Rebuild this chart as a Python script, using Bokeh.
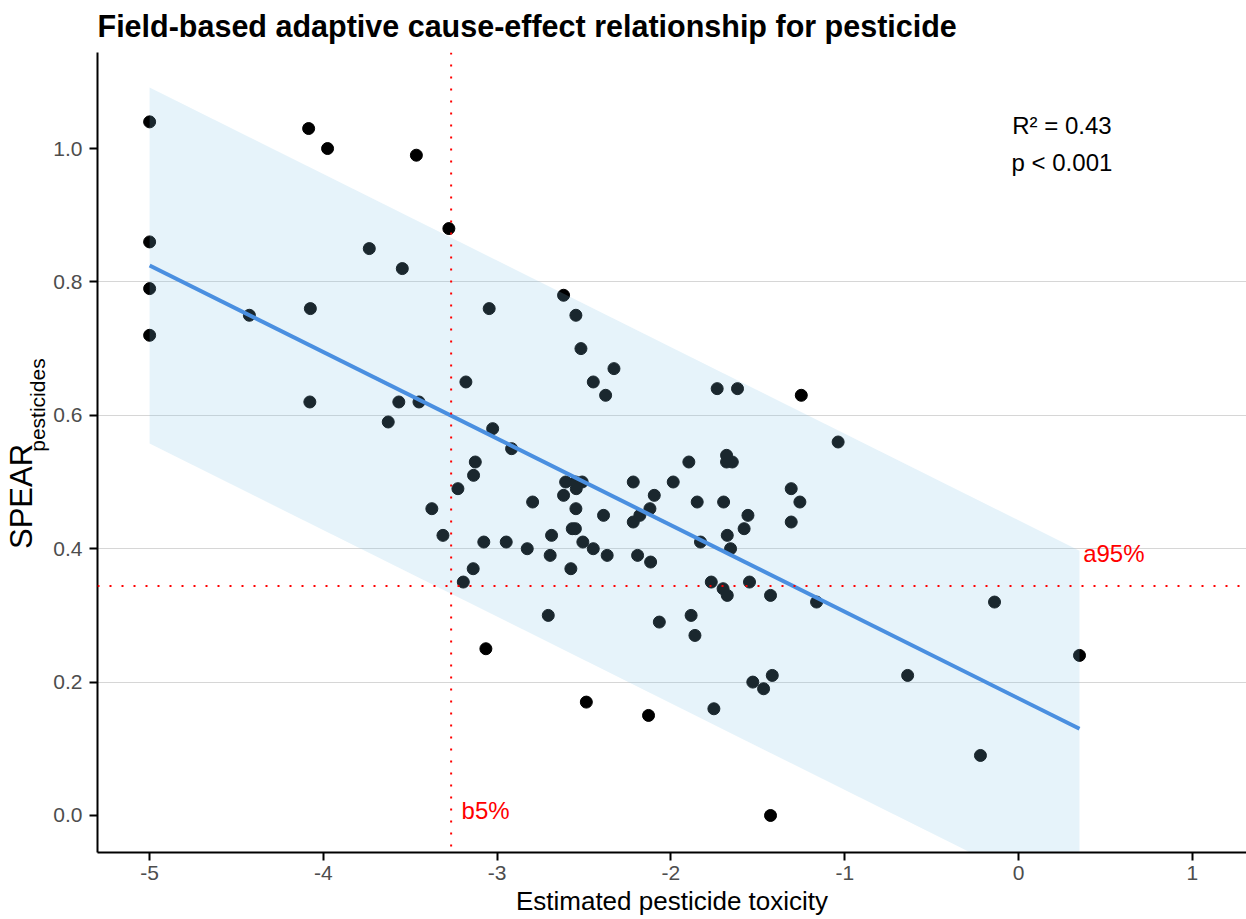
import numpy as np
from bokeh.plotting import figure
from bokeh.layouts import row
from bokeh.models import Span, Label, FixedTicker, PrintfTickFormatter, Range1d
from bokeh.core.properties import value
from bokeh.embed import file_html
from bokeh.resources import INLINE

# ---- data ----
toxicity = [
    -5.00, -4.085, -3.976, -3.465, -3.278, -5.00, -3.736, -3.546, -5.00, -4.426,
    -4.075, -3.046, -5.00, -3.18, -4.078, -3.566, -3.627, -3.45, -2.618, -2.547,
    -2.518, -2.328, -2.447, -2.376, -1.734, -1.617, -1.25, -3.026, -2.917, -3.126,
    -3.136, -3.226, -3.376, -3.312, -3.077, -2.948, -2.827, -2.695, -2.687, -2.796,
    -2.618, -2.606, -2.549, -2.511, -2.545, -2.547, -2.568, -2.55, -2.507, -2.447,
    -2.367, -2.388, -2.217, -2.096, -2.121, -2.179, -2.217, -2.192, -2.117, -1.987,
    -1.897, -1.849, -1.83, -1.697, -1.68, -1.68, -1.647, -1.676, -1.657, -1.557,
    -1.579, -1.308, -1.258, -1.308, -3.138, -2.576, -3.195, -1.768, -1.70, -1.676,
    -1.548, -1.427, -1.162, -2.706, -1.884, -2.067, -1.862, -3.065, -1.417, -1.529,
    -1.467, -1.753, -2.487, -2.129, -1.427, -1.038, -0.138, 0.351, -0.638, -0.219,
]
spear = [
    1.04, 1.03, 1.00, 0.99, 0.88, 0.86, 0.85, 0.82, 0.79, 0.75,
    0.76, 0.76, 0.72, 0.65, 0.62, 0.62, 0.59, 0.62, 0.78, 0.75,
    0.70, 0.67, 0.65, 0.63, 0.64, 0.64, 0.63, 0.58, 0.55, 0.53,
    0.51, 0.49, 0.46, 0.42, 0.41, 0.41, 0.40, 0.39, 0.42, 0.47,
    0.48, 0.50, 0.50, 0.50, 0.49, 0.46, 0.43, 0.43, 0.41, 0.40,
    0.39, 0.45, 0.50, 0.48, 0.46, 0.45, 0.44, 0.39, 0.38, 0.50,
    0.53, 0.47, 0.41, 0.47, 0.54, 0.53, 0.53, 0.42, 0.40, 0.45,
    0.43, 0.49, 0.47, 0.44, 0.37, 0.37, 0.35, 0.35, 0.34, 0.33,
    0.35, 0.33, 0.32, 0.30, 0.30, 0.29, 0.27, 0.25, 0.21, 0.20,
    0.19, 0.16, 0.17, 0.15, 0.00, 0.56, 0.32, 0.24, 0.21, 0.09,
]

fit_intercept = 0.1756
fit_slope = -0.1298
band_halfwidth = 0.267
b5_threshold = -3.265
a95_threshold = 0.344
r2_text = "R\u00b2 = 0.43"
p_text = "p < 0.001"
x_ticks = [-5, -4, -3, -2, -1, 0, 1]
y_ticks = [0.0, 0.2, 0.4, 0.6, 0.8, 1.0]
grid_ticks = [0.2, 0.4, 0.6, 0.8]
y_title = "SPEAR"
y_title_sub = "pesticides"

FONT = "Liberation Sans"
W, H = 1246, 919
LEFT_W = 50

# ---- narrow strip holding the y-axis title (with subscript) ----
yl = figure(width=LEFT_W, height=H, x_range=Range1d(0, LEFT_W), y_range=Range1d(0, H),
            toolbar_location=None, output_backend="svg",
            x_axis_location=None, y_axis_location=None, min_border=0)
yl.min_border_left = yl.min_border_right = yl.min_border_top = yl.min_border_bottom = 0
yl.outline_line_color = None
yl.xgrid.visible = False
yl.ygrid.visible = False
yl.text(x=[21], y=[H - 510], text=[y_title], angle=np.pi / 2,
        text_align="center", text_baseline="middle",
        text_font=value(FONT), text_font_size="31px", text_color="black")
yl.text(x=[37], y=[H - 405], text=[y_title_sub], angle=np.pi / 2,
        text_align="center", text_baseline="middle",
        text_font=value(FONT), text_font_size="21px", text_color="black")

# ---- main plot ----
p = figure(
    width=W - LEFT_W, height=H,
    x_range=Range1d(-5.30, 1.312), y_range=Range1d(-0.0555, 1.144),
    toolbar_location=None, output_backend="svg",
    min_border_left=97 - LEFT_W, min_border_right=0, min_border_top=52, min_border_bottom=67,
)
p.outline_line_color = None

p.title.text = "Field-based adaptive cause-effect relationship for pesticide"
p.title.text_font = FONT
p.title.text_font_size = "30.5px"
p.title.text_font_style = "bold"
p.title.text_color = "black"
p.title.vertical_align = "top"
p.title.standoff = 16

p.xgrid.visible = False
p.ygrid.ticker = FixedTicker(ticks=grid_ticks)
p.ygrid.grid_line_color = "#d6d6d6"
p.ygrid.grid_line_width = 1

for ax in (p.xaxis[0], p.yaxis[0]):
    ax.axis_line_color = "black"
    ax.axis_line_width = 2
    ax.major_tick_line_color = "black"
    ax.major_tick_line_width = 2
    ax.major_tick_out = 8
    ax.major_tick_in = 0
    ax.minor_tick_line_color = None
    ax.major_label_text_font = FONT
    ax.major_label_text_font_size = "21px"
    ax.major_label_text_color = "#4d4d4d"

p.xaxis.ticker = FixedTicker(ticks=x_ticks)
p.xaxis.formatter = PrintfTickFormatter(format="%d")
p.xaxis.major_label_standoff = 5
p.xaxis.axis_label = "Estimated pesticide toxicity"
p.xaxis.axis_label_text_font = FONT
p.xaxis.axis_label_text_font_size = "26px"
p.xaxis.axis_label_text_font_style = "normal"
p.xaxis.axis_label_text_color = "black"
p.xaxis.axis_label_standoff = 3

p.yaxis.ticker = FixedTicker(ticks=y_ticks)
p.yaxis.formatter = PrintfTickFormatter(format="%.1f")
p.yaxis.major_label_standoff = 7

# points
p.scatter(toxicity, spear, size=12, color="black")

# band around the fit
tx = np.array(toxicity)
xmin, xmax = tx.min(), tx.max()
fit_x = np.array([xmin, xmax])
fit_y = fit_intercept + fit_slope * fit_x
band_x = [xmin, xmax, xmax, xmin]
band_y = [fit_y[0] + band_halfwidth, fit_y[1] + band_halfwidth,
          fit_y[1] - band_halfwidth, fit_y[0] - band_halfwidth]
p.patch(band_x, band_y, fill_color="#82c3e6", fill_alpha=0.2, line_color=None)

# fit line
p.line(fit_x, fit_y, line_color="#4a8fe0", line_width=4)

# thresholds
p.add_layout(Span(location=b5_threshold, dimension="height", line_color="red",
                  line_dash="2 10", line_width=2))
p.add_layout(Span(location=a95_threshold, dimension="width", line_color="red",
                  line_dash="2 10", line_width=2))

def lab(x, y, text, size, color="black", align="left", baseline="middle"):
    p.add_layout(Label(x=x, y=y, text=text, text_font=FONT, text_font_size=size,
                       text_color=color, text_align=align, text_baseline=baseline))

lab(b5_threshold + 0.06, 0.0075, "b5%", "24px", color="red")
lab(0.372, 0.393, "a95%", "24px", color="red")
lab(0.25, 1.034, r2_text, "24px", align="center")
lab(0.25, 0.979, p_text, "24px", align="center")

layout = row(yl, p, spacing=0)
open("out.html", "w").write(file_html(layout, INLINE))
